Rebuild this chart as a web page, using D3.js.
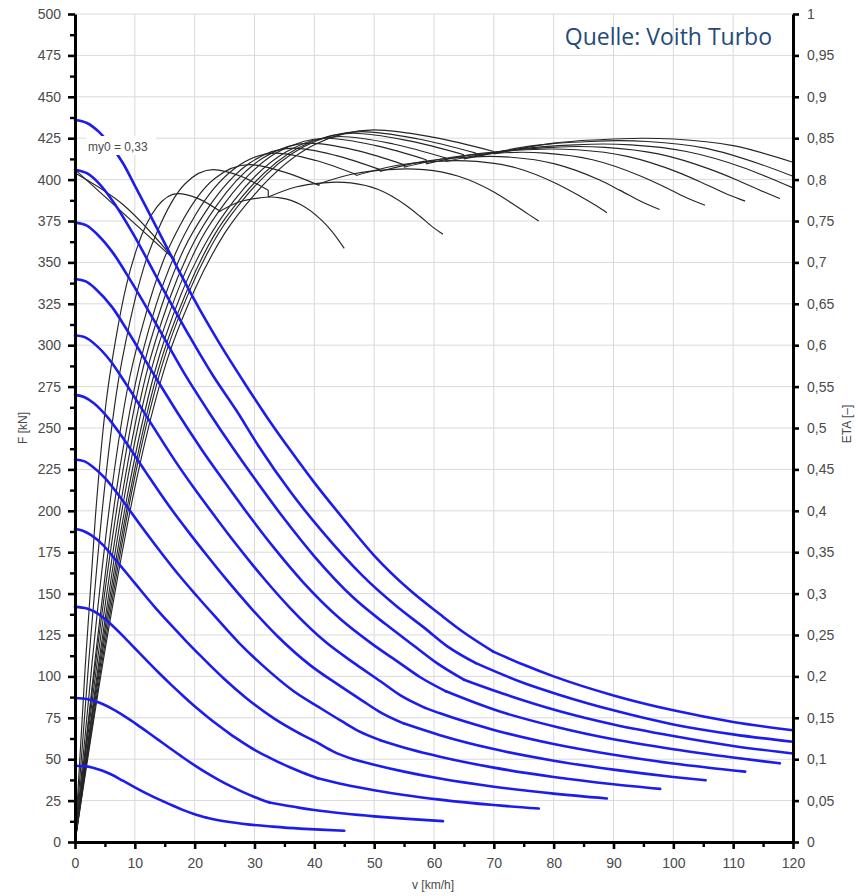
<!DOCTYPE html>
<html><head><meta charset="utf-8">
<script src="https://cdn.jsdelivr.net/npm/d3@7"></script>
<style>
body{margin:0;background:#fff;}
svg{display:block;}
text{font-family:"Liberation Sans",Arial,sans-serif;}
</style>
</head><body>
<svg id="chart" width="860" height="896"></svg>
<script>
// ---------- DATA ----------
// Axis ticks
const speedTicks = [0,10,20,30,40,50,60,70,80,90,100,110,120];
const speedMinor = [5,15,25,35,45,55,65,75,85,95,105,115];
const forceTicks = [0,25,50,75,100,125,150,175,200,225,250,275,300,325,350,375,400,425,450,475,500];
const forceMinor = [12.5,37.5,62.5,87.5,112.5,137.5,162.5,187.5,212.5,237.5,262.5,287.5,312.5,337.5,362.5,387.5,412.5,437.5,462.5,487.5];
const etaTicks = [0,0.05,0.1,0.15,0.2,0.25,0.3,0.35,0.4,0.45,0.5,0.55,0.6,0.65,0.7,0.75,0.8,0.85,0.9,0.95,1];

// Tractive effort F [kN] over v [km/h] (blue), one per throttle step
const force1 = [[0,436],[2,434.2],[4,428.8],[6,420.5],[8,410],[10,396.4],[12.5,379],[15,361.5],[17.5,344],[20,327],[24,302],[28,279],[32,257],[36,236.5],[40,217],[45,194.5],[50,173],[56,152],[61,137.5],[65,126.5],[69.9,115],[75,107],[80,100],[90,88.5],[100,79.5],[110,72.5],[120,67.5]];
const force2 = [[0,406],[1.9,404],[3.8,398.5],[6.7,385],[9.6,368],[14.4,336],[19.2,305],[23,282],[26.9,261],[30.7,239],[36.1,211],[41.2,188],[48,161],[53.7,142.5],[58.5,129],[62.3,118],[67,108],[75,96],[81,88.8],[90,79.5],[100,71],[110,65],[120,60.5]];
const force3 = [[0,374],[1.9,372.4],[3.7,367],[6.5,355],[9.3,339],[14,310],[18.6,281],[22.3,260],[26,240],[29.8,220.5],[35,195],[40,172.5],[46.5,147.6],[52,131.3],[56.7,118.4],[60.5,108],[65,98],[70,91.5],[81,79],[90,71],[100,64],[110,58],[120,53.4]];
const force4 = [[0,340],[1.8,338.5],[3.5,333.8],[6.2,323],[8.9,308],[13.3,281.6],[17.7,256],[21.3,236.3],[24.8,218.4],[28.4,200.5],[33.4,177],[38.1,157],[44.4,134.5],[49.7,119.5],[54.1,108.5],[57.7,99.5],[62,91],[70,80],[81,69],[90,62],[100,56],[110,51],[117.8,47.5]];
const force5 = [[0,306],[1.7,304.7],[3.35,300.5],[5.9,290.6],[8.4,277.3],[12.6,253.4],[16.7,230.3],[20.1,212.7],[23.4,196.6],[26.8,180.4],[31.5,159.4],[36,141.1],[41.9,120.7],[46.9,107.4],[51.1,96.9],[54.4,88.5],[58.5,81],[61,77.7],[70,67.7],[80,59.2],[90,52.7],[100,47.4],[112,42.5]];
const force6 = [[0,270],[1.6,268.6],[3.15,265],[5.5,256.3],[7.9,244.5],[11.8,223.5],[15.7,203],[18.9,187.6],[22,173.3],[25.2,159],[29.6,140.5],[33.8,124.4],[39.4,106.5],[44.1,94.7],[48,85.4],[51.2,78],[55,71.5],[61,64.5],[70,56.1],[80,49.1],[90,43.7],[100,39.3],[105.4,37.3]];
const force7 = [[0,231],[1.5,230],[2.9,226.8],[5.1,219.4],[7.3,209.4],[10.95,191.3],[14.6,173.8],[17.5,160.6],[20.4,148.4],[23.4,136.2],[27.4,120.3],[31.4,106.5],[36.5,91.2],[40.9,81.1],[44.5,73.1],[47.5,66.8],[51,61.5],[56,56],[61,51.5],[70,44.9],[80,39.3],[90,34.9],[97.8,32.1]];
const force8 = [[0,189],[1.3,188],[2.7,185.3],[4.7,179.3],[6.65,171],[10,156.3],[13.3,142],[16,131.2],[18.6,121.2],[21.3,111.3],[25,98.3],[28.6,87],[33.3,74.5],[37.2,66.2],[40.6,59.8],[43.2,54.6],[46.5,50],[50,46.7],[55,42.5],[61,38.3],[70,33.4],[80,29.2],[88.9,26.3]];
const force9 = [[0,142],[2,141],[4,137.5],[6,131.5],[8,124.5],[10,117],[12,109.5],[14,102.2],[16,95.2],[18,88.5],[20,82],[22,76],[24,70.3],[26,65],[28,60.2],[30,55.7],[32,51.8],[34,48.2],[36,45],[38,42],[40.6,38.5],[45,34.7],[50,31.3],[55,28.4],[61,25.6],[70,22.3],[77.5,20.2]];
const force10 = [[0,87],[2,86.3],[4,84.2],[6,80.8],[8,76.6],[10,71.8],[12,66.7],[14,61.5],[16,56.3],[18,51.2],[20,46.3],[22,41.7],[24,37.5],[26,33.7],[28,30.3],[30,27.2],[32.5,23.8],[37.6,20.6],[40,19.3],[45,17.2],[50,15.5],[55,14.1],[61.5,12.6]];
const force11 = [[0,46],[1.5,45.8],[3,44.9],[4.5,43.2],[6,40.9],[8,37],[10,33],[12,29.2],[14,25.7],[16,22.5],[18,19.4],[20,16.8],[22,14.7],[25,12.5],[29.2,10.5],[33,9.3],[37.6,8.1],[41,7.45],[45,6.8]];
const forceSeries = [force1,force2,force3,force4,force5,force6,force7,force8,force9,force10,force11];
// speed where each effort curve changes (switch point)
const switchSpeeds = [69.9,67,65,62,58.5,55,51,46.5,40.6,32.5,22];

// Efficiency ETA [-] (black): first converter (A) and second converter (B) per step
const etaA1 = [[0,0],[5,.231],[10,.428],[15,.573],[20,.667],[25,.735],[30,.782],[40,.842],[50,.860],[60,.851],[70,.834]];
const etaB1 = [[70,.831],[80,.844],[90,.849],[95,.850],[100,.849],[110,.841],[120,.821]];
const etaA2 = [[0,0],[4.8,.230],[9.6,.427],[14.4,.572],[19.1,.665],[23.9,.734],[28.7,.781],[38.3,.840],[47.9,.858],[57.4,.849],[67,.832]];
const etaB2 = [[67,.828],[76.6,.841],[86.1,.846],[90.9,.847],[95.7,.846],[105.3,.838],[114.8,.818],[120,.804]];
const etaA3 = [[0,0],[4.6,.230],[9.3,.426],[13.9,.570],[18.6,.664],[23.2,.732],[27.9,.779],[37.2,.838],[46.5,.856],[55.7,.847],[65,.830]];
const etaB3 = [[65,.825],[74.3,.837],[83.6,.842],[88.3,.843],[92.9,.842],[102.2,.834],[111.5,.815],[116.1,.802],[120,.790]];
const etaA4 = [[0,0],[4.4,.229],[8.9,.424],[13.3,.567],[17.7,.661],[22.2,.728],[26.6,.775],[35.4,.834],[44.3,.852],[53.2,.843],[62,.826]];
const etaB4 = [[62,.822],[70.9,.834],[79.7,.839],[84.2,.840],[88.6,.839],[97.5,.831],[106.3,.812],[110.8,.799],[115.2,.785],[117.8,.777]];
const etaA5 = [[0,0],[4.2,.228],[8.4,.423],[12.6,.566],[16.8,.659],[21,.727],[25.2,.773],[33.6,.832],[42,.850],[50.3,.841],[58.7,.824]];
const etaB5 = [[58.7,.819],[67.1,.831],[75.5,.836],[79.7,.837],[83.9,.836],[92.3,.828],[100.7,.809],[104.9,.796],[109.1,.782],[112,.774]];
const etaA6 = [[0,0],[3.9,.227],[7.9,.420],[11.8,.562],[15.7,.654],[19.7,.722],[23.6,.768],[31.4,.826],[39.3,.844],[47.2,.835],[55,.818]];
const etaB6 = [[55,.815],[62.9,.827],[70.7,.832],[74.7,.833],[78.6,.832],[86.5,.824],[94.3,.805],[98.3,.792],[102.2,.778],[105.3,.769]];
const etaA7 = [[0,0],[3.6,.225],[7.3,.417],[10.9,.558],[14.6,.650],[18.2,.716],[21.9,.762],[29.2,.820],[36.5,.838],[43.7,.829],[51,.812]];
const etaB7 = [[51,.810],[58.3,.822],[65.6,.827],[69.3,.828],[72.9,.827],[80.2,.819],[87.5,.800],[91.1,.787],[94.8,.773],[97.7,.764]];
const etaA8 = [[0,0],[3.4,.223],[6.7,.414],[10.1,.554],[13.4,.645],[16.8,.711],[20.1,.757],[26.8,.814],[33.6,.832],[40.3,.823],[47,.806]];
const etaB8 = [[47,.805],[53.7,.817],[60.4,.822],[63.7,.823],[67.1,.822],[73.8,.814],[80.5,.795],[83.9,.782],[87.2,.768],[88.9,.760]];
const etaA9 = [[0,0],[2.9,.220],[5.8,.407],[8.7,.545],[11.7,.634],[14.6,.699],[17.5,.744],[23.3,.801],[29.2,.818],[35,.809],[40.8,.793]];
const etaB9 = [[40.8,.795],[46.6,.807],[52.5,.812],[55.4,.813],[58.3,.812],[64.1,.804],[70,.785],[72.9,.772],[75.8,.758],[77.5,.750]];
const etaA10 = [[0,0],[2.3,.218],[4.6,.404],[6.9,.541],[9.2,.629],[11.5,.694],[13.8,.738],[18.4,.795],[23.1,.812],[27.7,.804],[32.3,.787]];
const etaB10 = [[32.3,.779],[36.9,.791],[41.5,.796],[43.8,.797],[46.1,.796],[50.7,.788],[55.3,.769],[57.6,.756],[59.9,.742],[61.5,.734]];
const etaA11 = [[0,0],[1.7,.211],[3.4,.392],[5.1,.525],[6.9,.611],[8.6,.673],[10.3,.716],[13.7,.767],[17.2,.783],[20.6,.777],[24,.763]];
const etaB11 = [[24,.761],[27.4,.773],[30.9,.778],[32.6,.779],[34.3,.778],[37.7,.770],[41.2,.751],[43,.737],[45,.717]];
const etaConv1 = [etaA1,etaA2,etaA3,etaA4,etaA5,etaA6,etaA7,etaA8,etaA9,etaA10,etaA11];
const etaConv2 = [etaB1,etaB2,etaB3,etaB4,etaB5,etaB6,etaB7,etaB8,etaB9,etaB10,etaB11];
// two thin lines starting at the ETA axis near v = 0
const etaStartLine1 = [[0,.812],[16.7,.703]];
const etaStartLine2 = [[0,.808],[8,.770],[16.7,.703]];

// ---------- CHART ----------
const svg = d3.select("#chart");
const x = d3.scaleLinear().domain([0,120]).range([75,793]);
const yF = d3.scaleLinear().domain([0,500]).range([842,14]);
const yE = d3.scaleLinear().domain([0,1]).range([842,14]);

// grid
const grid = svg.append("g").attr("stroke","#dadada").attr("stroke-width",1);
grid.selectAll("line.v").data(speedTicks.filter(d=>d>0&&d<120)).join("line")
  .attr("x1",d=>x(d)).attr("x2",d=>x(d)).attr("y1",yF(0)).attr("y2",yF(500));
grid.selectAll("line.h").data(forceTicks.filter(d=>d>0)).join("line")
  .attr("y1",d=>yF(d)).attr("y2",d=>yF(d)).attr("x1",x(0)).attr("x2",x(120));

// efficiency curves
const lineE = d3.line().x(d=>x(d[0])).y(d=>yE(d[1])).curve(d3.curveMonotoneX);
const lineELin = d3.line().x(d=>x(d[0])).y(d=>yE(d[1]));
const gE = svg.append("g").attr("fill","none").attr("stroke","#262626").attr("stroke-width",1.15);
etaConv1.forEach((a,i)=>{
  const b = etaConv2[i];
  gE.append("path").attr("d",lineE(a));
  gE.append("path").attr("d",lineE(b));
  gE.append("path").attr("d",lineELin([a[a.length-1],b[0]]));
});
gE.append("path").attr("d",lineELin(etaStartLine1));
gE.append("path").attr("d",d3.line().x(d=>x(d[0])).y(d=>yE(d[1])).curve(d3.curveCatmullRom)(etaStartLine2));

// tractive effort curves
const lineF = d3.line().x(d=>x(d[0])).y(d=>yF(d[1])).curve(d3.curveMonotoneX);
const gF = svg.append("g").attr("fill","none").attr("stroke","#1c1cf0").attr("stroke-width",2.6)
  .attr("stroke-linejoin","round").attr("stroke-linecap","round");
forceSeries.forEach((s,i)=>{
  const k = switchSpeeds[i];
  gF.append("path").attr("d",lineF(s.filter(d=>d[0]<=k)));
  gF.append("path").attr("d",lineF(s.filter(d=>d[0]>=k)));
});

// axes
const labelColor = "#4a4a4a";
function styleAxis(g, w){
  g.select(".domain").attr("stroke","#000").attr("stroke-width",3);
  g.selectAll(".tick line").attr("stroke","#000").attr("stroke-width",w);
  g.selectAll(".tick text").attr("fill",labelColor).style("font-size","14px")
    .style("font-family","'Liberation Sans',Arial,sans-serif");
}
const axL = svg.append("g").attr("transform","translate(75,0)")
  .call(d3.axisLeft(yF).tickValues(forceTicks).tickSize(7).tickSizeOuter(0).tickPadding(7).tickFormat(d3.format("d")));
styleAxis(axL,2.6);
const axLm = svg.append("g").attr("transform","translate(75,0)")
  .call(d3.axisLeft(yF).tickValues(forceMinor).tickSize(5).tickSizeOuter(0).tickFormat(""));
styleAxis(axLm,2.4); axLm.select(".domain").remove();

const axB = svg.append("g").attr("transform","translate(0,842)")
  .call(d3.axisBottom(x).tickValues(speedTicks).tickSize(7).tickSizeOuter(0).tickPadding(9).tickFormat(d3.format("d")));
styleAxis(axB,2.6);
const axBm = svg.append("g").attr("transform","translate(0,842)")
  .call(d3.axisBottom(x).tickValues(speedMinor).tickSize(5).tickSizeOuter(0).tickFormat(""));
styleAxis(axBm,2.4); axBm.select(".domain").remove();

const fmtEta = d => d===0 ? "0" : d===1 ? "1" : d.toFixed(2).replace(/0$/,"").replace(".",",");
const axR = svg.append("g").attr("transform","translate(793,0)")
  .call(d3.axisRight(yE).tickValues(etaTicks).tickSize(6).tickSizeOuter(0).tickPadding(8).tickFormat(fmtEta));
styleAxis(axR,2.6);

// axis titles
svg.append("text").attr("transform","translate(27,428) rotate(-90)").attr("text-anchor","middle")
  .attr("fill",labelColor).style("font-size","12px").text("F [kN]");
svg.append("text").attr("transform","translate(851,424) rotate(-90)").attr("text-anchor","middle")
  .attr("fill",labelColor).style("font-size","12px").text("ETA [–]");
svg.append("text").attr("x",433).attr("y",889).attr("text-anchor","middle")
  .attr("fill",labelColor).style("font-size","12px").text("v [km/h]");

// annotation
svg.append("rect").attr("x",86).attr("y",136).attr("width",70).attr("height",19).attr("fill","#fff");
svg.append("text").attr("x",88).attr("y",151).attr("fill",labelColor).style("font-size","12px").text("my0 = 0,33");

// source
svg.append("text").attr("x",772).attr("y",45).attr("text-anchor","end").attr("fill","#1f4a7a")
  .style("font-family","'Open Sans',sans-serif").style("font-size","23px").text("Quelle: Voith Turbo");
</script>
</body></html>
